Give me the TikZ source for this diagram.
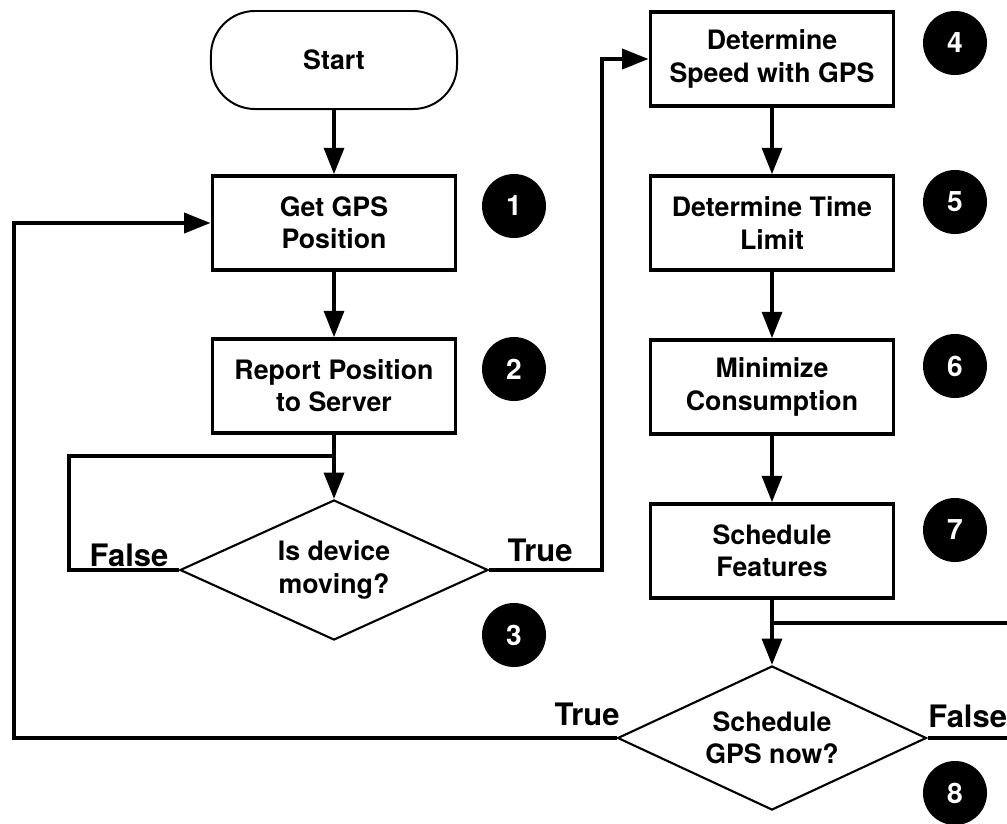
\documentclass[tikz,border=0pt]{standalone}
\usepackage{fontspec}
\setmainfont{TeX Gyre Heros}
\usetikzlibrary{shapes.geometric, arrows.meta}

\begin{document}
\begin{tikzpicture}[x=0.025cm, y=-0.025cm,
	every node/.style={font=\bfseries\fontsize{19}{23}\selectfont},
	proc/.style={draw, line width=2.6pt, minimum width=6.08cm, minimum height=2.35cm, align=center, inner sep=0pt},
	term/.style={draw, line width=1.4pt, rounded corners=1.1cm, minimum width=6.15cm, minimum height=2.45cm},
	dec/.style={draw, diamond, aspect=2.2, line width=1.5pt, inner sep=0pt, align=center},
	num/.style={circle, fill=black, text=white, minimum size=1.6cm, inner sep=0pt, font=\bfseries\fontsize{20}{24}\selectfont},
	lbl/.style={inner sep=0pt, font=\bfseries\fontsize{22}{26}\selectfont},
	flow/.style={line width=2.5pt, -{Triangle[length=0.66cm, width=0.5cm]}},
	wire/.style={line width=2.5pt}]
	\useasboundingbox (0,0) rectangle (1007,823);

	\node[term] (start) at (334,60) {Start};
	\node[proc] (s1) at (334,223) {Get GPS\\Position};
	\node[proc] (s2) at (334,386) {Report Position\\to Server};
	\node[dec, minimum width=7.7cm, minimum height=3.5cm] (s3) at (334,570) {Is device\\moving?};
	\node[proc] (s4) at (772,59) {Determine\\Speed with GPS};
	\node[proc] (s5) at (772,223) {Determine Time\\Limit};
	\node[proc] (s6) at (772,387) {Minimize\\Consumption};
	\node[proc] (s7) at (772,551) {Schedule\\Features};
	\node[dec, minimum width=7.72cm, minimum height=3.6cm] (s8) at (772,738) {Schedule\\GPS now?};

	% step numbers
	\node[num] (c1) at (514,206) {1};
	\node[num] (c2) at (514,369) {2};
	\node[num] (c3) at (514,635) {3};
	\node[num] (c4) at (955,43) {4};
	\node[num] (c5) at (955,202) {5};
	\node[num] (c6) at (955,366) {6};
	\node[num] (c7) at (955,530) {7};
	\node[num] (c8) at (955,793) {8};

	\coordinate (j3) at (334,456);
	\coordinate (fl) at (69,456);
	\coordinate (tu) at (602,59);
	\coordinate (j8) at (772,623);
	\coordinate (fr) at (1040,623);
	\coordinate (tl) at (14,223);

	\draw[flow] (start) -- (s1);
	\draw[flow] (s1) -- (s2);
	\draw[flow] (s2) -- (s3);
	\draw[wire] (s3.west) -| (fl) -- (j3);
	\draw[flow] (s3.east) -| (tu) -- (s4.west);
	\draw[flow] (s4) -- (s5);
	\draw[flow] (s5) -- (s6);
	\draw[flow] (s6) -- (s7);
	\draw[flow] (s7) -- (s8);
	\draw[wire] (j8) -- (fr) |- (s8.east);
	\draw[flow] (s8.west) -| (tl) -- (s1.west);

	\node[lbl] (f3) at (129,555) {False};
	\node[lbl] (t3) at (540,550) {True};
	\node[lbl] (t8) at (587,714) {True};
	\node[lbl, anchor=west] (f8) at (928,716) {False};
\end{tikzpicture}
\end{document}
